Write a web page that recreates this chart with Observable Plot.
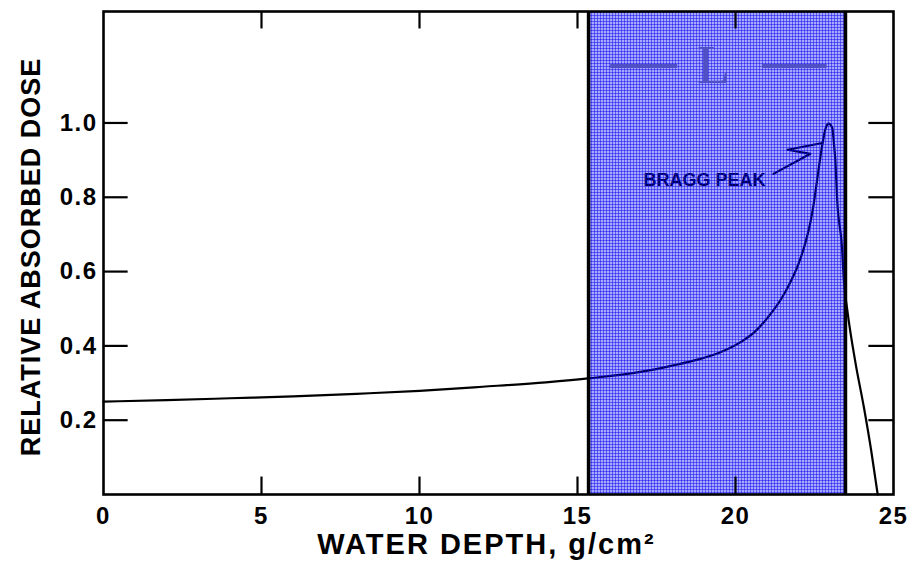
<!DOCTYPE html>
<html>
<head>
<meta charset="utf-8">
<script src="https://cdn.jsdelivr.net/npm/d3@7"></script>
<script src="https://cdn.jsdelivr.net/npm/@observablehq/plot@0.6"></script>
<style>
  body { margin: 0; background: #fff; }
</style>
</head>
<body>
<div id="chart"></div>
<script>
// Depth-dose curve (water depth in g/cm², relative absorbed dose)
const depth = [0, 2, 4, 6, 8, 10, 12, 14, 15.4, 17, 18, 18.8, 19.5, 20.16, 20.6, 21.1, 21.45, 21.74, 22.0, 22.22, 22.38, 22.48, 22.58, 22.68, 22.76, 22.85, 22.95, 23.06, 23.12, 23.16, 23.22, 23.37, 23.43, 23.54, 23.8, 24.06, 24.3, 24.5];
const dose  = [0.250, 0.254, 0.259, 0.264, 0.271, 0.279, 0.290, 0.302, 0.313, 0.330, 0.347, 0.363, 0.382, 0.410, 0.437, 0.485, 0.527, 0.572, 0.622, 0.680, 0.737, 0.785, 0.845, 0.905, 0.948, 0.985, 0.998, 0.987, 0.940, 0.898, 0.790, 0.665, 0.576, 0.495, 0.353, 0.236, 0.115, 0.0];

// Shaded range "L"
const rangeStart = [15.35];
const rangeEnd = [23.48];

// Axis ticks
const xTicks = [0, 5, 10, 15, 20, 25];
const xInnerTicks = [5, 10, 15, 20];
const yTicks = [0.2, 0.4, 0.6, 0.8, 1.0];

// Texts
const xTitle = "WATER DEPTH, g/cm²";
const yTitle = "RELATIVE ABSORBED DOSE";
const peakLabel = ["BRAGG PEAK"];
const peakLabelX = [19.02];
const peakLabelY = [0.845];
const arrowX = [21.2, 22.37, 21.65, 22.75];
const arrowY = [0.863, 0.917, 0.928, 0.946];
const rangeLabel = ["L"];
const rangeLabelX = [19.3];
const rangeLabelY = [1.153];
const dashX1 = [16.05, 20.85];
const dashX2 = [18.17, 22.9];
const dashY = [1.153, 1.153];

const xMax = 25, yMax = 1.3;
const xTickLen = 0.047;   // in y units (inward ticks on bottom/top)
const yTickLen = 0.78;    // in x units (inward ticks on left/right)

const curve = depth.map((d, i) => ({x: d, y: dose[i]}));
const arrow = arrowX.map((d, i) => ({x: d, y: arrowY[i]}));
const range = rangeStart.map((d, i) => ({x1: d, x2: rangeEnd[i]}));
const dashes = dashX1.map((d, i) => ({x1: d, x2: dashX2[i], y: dashY[i]}));
const peak = peakLabel.map((t, i) => ({t, x: peakLabelX[i], y: peakLabelY[i]}));
const rl = rangeLabel.map((t, i) => ({t, x: rangeLabelX[i], y: rangeLabelY[i]}));

const font = "Liberation Sans, Arial, sans-serif";

const svg = Plot.plot({
  width: 916,
  height: 563,
  marginLeft: 103,
  marginRight: 23,
  marginTop: 11,
  marginBottom: 69,
  style: {fontFamily: font, color: "#000", background: "#fff"},
  x: {domain: [0, xMax], label: null},
  y: {domain: [0, yMax], label: null},
  marks: [
    Plot.line(curve, {x: "x", y: "y", stroke: "#000", strokeWidth: 2.2, curve: "monotone-x"}),
    Plot.text(peak, {x: "x", y: "y", text: "t", fontSize: 18, fontWeight: "bold", fill: "#000"}),
    Plot.line(arrow, {x: "x", y: "y", stroke: "#000", strokeWidth: 2.2}),
    Plot.rect(range, {x1: "x1", x2: "x2", y1: 0, y2: yMax, fill: "#0000fe", fillOpacity: 0.5}),
    Plot.ruleX(rangeStart, {stroke: "#000", strokeWidth: 3.5}),
    Plot.ruleX(rangeEnd, {stroke: "#000", strokeWidth: 3.5}),
    Plot.ruleY(dashes, {x1: "x1", x2: "x2", y: "y", stroke: "#5050c4", strokeWidth: 4}),
    Plot.text(rl, {x: "x", y: "y", text: "t", fontFamily: "Liberation Serif, serif", fontSize: 54, fill: "#5050c4"}),
    // inward ticks
    Plot.ruleX(xInnerTicks, {y1: 0, y2: xTickLen, stroke: "#000", strokeWidth: 2.2}),
    Plot.ruleX(xInnerTicks, {y1: yMax, y2: yMax - xTickLen, stroke: "#000", strokeWidth: 2.2}),
    Plot.ruleY(yTicks, {x1: 0, x2: yTickLen, stroke: "#000", strokeWidth: 2.2}),
    Plot.ruleY(yTicks, {x1: xMax, x2: xMax - yTickLen, stroke: "#000", strokeWidth: 2.2}),
    Plot.frame({stroke: "#000", strokeWidth: 2.6}),
    Plot.axisX({ticks: xTicks, tickSize: 0, tickPadding: 12, fontSize: 24, fontWeight: "bold", label: null, tickFormat: d => String(d)}),
    Plot.axisY({ticks: yTicks, tickSize: 0, tickPadding: 6, fontSize: 24, fontWeight: "bold", label: null, tickFormat: d3.format(".1f")}),
    Plot.text([xTitle], {frameAnchor: "bottom", lineAnchor: "middle", textAnchor: "middle", dx: -12, dy: 50, text: d => d, fontSize: 29, fontWeight: "bold", fill: "#000"}),
    Plot.text([yTitle], {frameAnchor: "left", lineAnchor: "middle", textAnchor: "middle", dx: -72, dy: 4, rotate: -90, text: d => d, fontSize: 27, fontWeight: "bold", fill: "#000"})
  ]
});

const s = d3.select(svg);
// grid-textured blue fill for the shaded range
const defs = s.insert("defs", ":first-child");
const pat = defs.append("pattern").attr("id", "bluegrid").attr("patternUnits", "userSpaceOnUse").attr("width", 3).attr("height", 3);
pat.append("rect").attr("width", 3).attr("height", 3).attr("fill", "#0000ff").attr("fill-opacity", 0.34);
pat.append("path").attr("d", "M0,0.5H3M0.5,0V3").attr("stroke", "#0000e6").attr("stroke-opacity", 0.45).attr("stroke-width", 1);
s.selectAll('[fill="#0000fe"]').attr("fill", "url(#bluegrid)").attr("fill-opacity", 1);
// wide lettering, as in the hand-lettered original
s.selectAll("text").filter(function() { return this.textContent === xTitle; }).attr("letter-spacing", 2);
s.selectAll("text").filter(function() { return this.textContent === yTitle; }).attr("letter-spacing", 1);
s.selectAll('g[aria-label="x-axis tick label"] text, g[aria-label="y-axis tick label"] text').attr("letter-spacing", 1.5);

document.getElementById("chart").appendChild(svg);
</script>
</body>
</html>
